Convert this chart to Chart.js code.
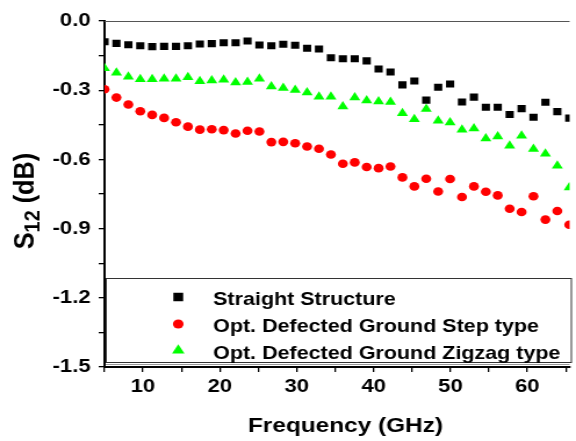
<!DOCTYPE html>
<html>
<head>
<meta charset="utf-8">
<script src="https://cdn.jsdelivr.net/npm/chart.js@4"></script>
<style>
  html, body { margin: 0; padding: 0; background: #fff; overflow: hidden; }
  #wrap { width: 496px; height: 441px; transform: scale(1.1613, 1); transform-origin: 0 0; }
</style>
</head>
<body>
<div id="wrap"><canvas id="chart" width="496" height="441"></canvas></div>
<script>
// frequency points (GHz)
const freq = [5.00, 6.55, 8.10, 9.65, 11.20, 12.75, 14.30, 15.85, 17.40, 18.95,
    20.50, 22.05, 23.60, 25.15, 26.70, 28.25, 29.80, 31.35, 32.90, 34.45,
    36.00, 37.55, 39.10, 40.65, 42.20, 43.75, 45.30, 46.85, 48.40, 49.95,
    51.50, 53.05, 54.60, 56.15, 57.70, 59.25, 60.80, 62.35, 63.90, 65.45];

const straight = [-0.090, -0.097, -0.103, -0.107, -0.111, -0.110, -0.110, -0.107, -0.100, -0.098,
    -0.094, -0.094, -0.087, -0.104, -0.107, -0.101, -0.105, -0.118, -0.121, -0.159,
    -0.164, -0.164, -0.173, -0.208, -0.221, -0.277, -0.260, -0.343, -0.287, -0.273,
    -0.351, -0.330, -0.374, -0.374, -0.405, -0.380, -0.417, -0.352, -0.393, -0.421];

const stepType = [-0.296, -0.332, -0.362, -0.391, -0.407, -0.420, -0.439, -0.458, -0.471, -0.469,
    -0.473, -0.488, -0.476, -0.479, -0.525, -0.524, -0.530, -0.544, -0.554, -0.579,
    -0.619, -0.613, -0.633, -0.638, -0.631, -0.678, -0.717, -0.684, -0.739, -0.685,
    -0.763, -0.717, -0.740, -0.756, -0.814, -0.828, -0.760, -0.861, -0.824, -0.883];

const zigzagType = [-0.205, -0.224, -0.242, -0.252, -0.252, -0.250, -0.250, -0.244, -0.261, -0.258,
    -0.255, -0.267, -0.264, -0.250, -0.284, -0.290, -0.299, -0.310, -0.328, -0.328,
    -0.371, -0.332, -0.345, -0.349, -0.351, -0.400, -0.426, -0.382, -0.432, -0.440,
    -0.472, -0.466, -0.509, -0.501, -0.541, -0.498, -0.555, -0.576, -0.628, -0.722];

const seriesLabels = ['Straight Structure', 'Opt. Defected Ground Step type', 'Opt. Defected Ground Zigzag type'];
const yTicks = [0.0, -0.3, -0.6, -0.9, -1.2, -1.5];
const xTicks = [10, 20, 30, 40, 50, 60];

const FONT = "'Liberation Sans', Arial, sans-serif";

function pts(ys) {
    return freq.map((f, i) => ({ x: f, y: ys[i] }));
}

// legend box, frame line and axis titles
const decor = {
    id: 'decor',
    afterDraw(chart) {
        const ctx = chart.ctx;
        const a = chart.chartArea;
        ctx.save();

        // top frame line
        ctx.strokeStyle = '#555';
        ctx.lineWidth = 1;
        ctx.beginPath();
        ctx.moveTo(a.left, a.top + 0.5);
        ctx.lineTo(a.right, a.top + 0.5);
        ctx.stroke();

        // legend box
        ctx.strokeStyle = '#333';
        ctx.strokeRect(a.left + 1.5, 278.5, a.right - a.left, 84);
        ctx.strokeStyle = '#999';
        ctx.beginPath();
        ctx.moveTo(a.left + 1, 364.5);
        ctx.lineTo(a.right, 364.5);
        ctx.stroke();

        const rowY = [297, 324, 350.5];
        chart.data.datasets.forEach((ds, i) => {
            ctx.fillStyle = ds.backgroundColor;
            Chart.helpers.drawPoint(ctx, {
                pointStyle: ds.pointStyle,
                radius: ds.pointStyle === 'rect' ? 6 : (ds.pointStyle === 'triangle' ? 6.2 : 4.6),
                rotation: 0,
                borderWidth: 0
            }, 153.5, rowY[i]);
            ctx.fillStyle = '#000';
            ctx.font = 'bold 18.5px ' + FONT;
            ctx.textAlign = 'left';
            ctx.textBaseline = 'alphabetic';
            ctx.fillText(seriesLabels[i], 183.5, rowY[i] + 8);
        });

        // x title
        ctx.fillStyle = '#000';
        ctx.font = 'bold 21px ' + FONT;
        ctx.textAlign = 'center';
        ctx.fillText('Frequency (GHz)', 297.5, 431.5);

        // y title with subscript
        ctx.translate(29, 201);
        ctx.rotate(-Math.PI / 2);
        ctx.scale(1.1, 1);
        ctx.textAlign = 'left';
        const big = 'bold 23px ' + FONT;
        const small = 'bold 18px ' + FONT;
        ctx.font = big;
        const wS = ctx.measureText('S').width;
        const wRest = ctx.measureText(' (dB)').width;
        ctx.font = small;
        const wSub = ctx.measureText('12').width;
        let x0 = -(wS + wSub + wRest) / 2;
        ctx.font = big;
        ctx.fillText('S', x0, 0);
        ctx.font = small;
        ctx.fillText('12', x0 + wS, 5);
        ctx.font = big;
        ctx.fillText(' (dB)', x0 + wS + wSub, 0);

        ctx.restore();
    }
};

new Chart(document.getElementById('chart'), {
    type: 'scatter',
    data: {
        datasets: [
            {
                label: seriesLabels[0],
                data: pts(straight),
                pointStyle: 'rect',
                pointRadius: 5,
                backgroundColor: '#000000',
                borderWidth: 0,
                clip: 0
            },
            {
                label: seriesLabels[1],
                data: pts(stepType),
                pointStyle: 'circle',
                pointRadius: 4.3,
                backgroundColor: '#ff0000',
                borderWidth: 0,
                clip: 0
            },
            {
                label: seriesLabels[2],
                data: pts(zigzagType),
                pointStyle: 'triangle',
                pointRadius: 5.5,
                backgroundColor: '#00ff00',
                borderWidth: 0,
                clip: 0
            }
        ]
    },
    options: {
        responsive: false,
        animation: false,
        layout: { padding: { top: 21, right: 0, left: 0, bottom: 0 } },
        plugins: {
            legend: { display: false },
            tooltip: { enabled: false }
        },
        scales: {
            x: {
                type: 'linear',
                position: 'bottom',
                min: 5,
                max: 65.5,
                afterFit: s => { s.height = 74; },
                border: { color: '#000', width: 2 },
                grid: { drawOnChartArea: false, tickLength: 5, tickColor: '#000', lineWidth: 1.3 },
                ticks: {
                    stepSize: 5,
                    includeBounds: false,
                    autoSkip: false,
                    maxRotation: 0,
                    padding: 3,
                    color: '#000',
                    font: { family: FONT, size: 19, weight: 'bold' },
                    callback: v => xTicks.includes(v) ? String(v) : ''
                }
            },
            y: {
                min: -1.5,
                max: 0,
                afterFit: s => { s.width = 90; },
                border: { color: '#000', width: 2 },
                grid: { drawOnChartArea: false, tickLength: 5, tickColor: '#000', lineWidth: 1.3 },
                ticks: {
                    stepSize: 0.15,
                    autoSkip: false,
                    padding: 7,
                    color: '#000',
                    font: { family: FONT, size: 19, weight: 'bold' },
                    callback: v => yTicks.some(t => Math.abs(t - v) < 1e-6) ? v.toFixed(1) : ''
                }
            }
        }
    },
    plugins: [decor]
});
</script>
</body>
</html>
